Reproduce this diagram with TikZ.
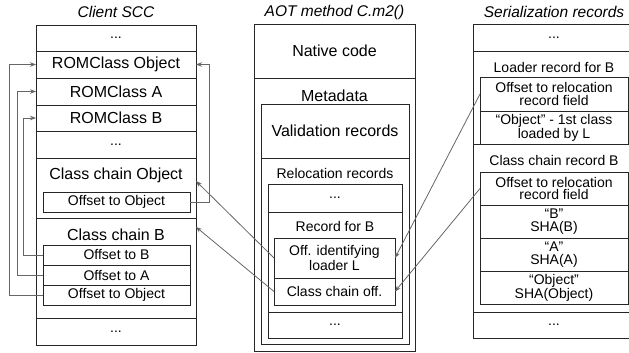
\documentclass[tikz,border=0pt]{standalone}
\usepackage{fontspec}
\setmainfont{Liberation Sans}
\usetikzlibrary{arrows.meta}
\begin{document}
\begin{tikzpicture}[x=1pt,y=-1pt,
  cell/.style={draw=black!85, line width=0.8pt, inner sep=0pt, outer sep=0pt, align=center},
  big/.style={font=\fontsize{16}{15}\selectfont},
  sm/.style={font=\fontsize{14}{12.8}\selectfont},
  lbl/.style={inner sep=0pt, align=center},
  ttl/.style={font=\fontsize{15.5}{16}\selectfont\itshape},
  conn/.style={draw=black!60, line width=0.8pt},
  arr/.style={conn, -{Stealth[length=6pt,width=4.5pt]}}
]
\useasboundingbox (0,0) rectangle (629,353);
\clip (0,0) rectangle (629,353);

% titles
\node[ttl] (tL) at (116,12) {Client SCC};
\node[ttl] (tM) at (334.5,12) {AOT method C.m2()};
\node[ttl] (tR) at (554,12) {Serialization records};

% ---------- Client SCC ----------
\node[cell,sm,minimum width=160pt,minimum height=26pt] (l0) at (116,38) {...};
\node[cell,big,minimum width=160pt,minimum height=27pt] (lRO) at (116,64.5) {ROMClass Object};
\node[cell,big,minimum width=160pt,minimum height=27pt] (lRA) at (116,91.5) {ROMClass A};
\node[cell,big,minimum width=160pt,minimum height=26pt] (lRB) at (116,118) {ROMClass B};
\node[cell,sm,minimum width=160pt,minimum height=27pt] (l1) at (116,144.5) {...};
\node[cell,minimum width=160pt,minimum height=60pt] (lCCO) at (116,188) {};
\node[lbl,big] (lCCOt) at (116,175) {Class chain Object};
\node[cell,sm,minimum width=147pt,minimum height=20pt] (lOO) at (116.5,202) {Offset to Object};
\node[cell,minimum width=160pt,minimum height=100pt] (lCCB) at (116,268) {};
\node[lbl,big] (lCCBt) at (116,235) {Class chain B};
\node[cell,sm,minimum width=147pt,minimum height=20pt] (lOB) at (116.5,255) {Offset to B};
\node[cell,sm,minimum width=147pt,minimum height=20pt] (lOA) at (116.5,275) {Offset to A};
\node[cell,sm,minimum width=147pt,minimum height=20pt] (lOO2) at (116.5,295) {Offset to Object};
\node[cell,sm,minimum width=160pt,minimum height=27pt] (l2) at (116,331.5) {...};

% ---------- AOT method ----------
\node[cell,minimum width=161pt,minimum height=327pt] (mCol) at (334.5,187.5) {};
\node[cell,big,minimum width=161pt,minimum height=54pt] (mNC) at (334.5,51) {Native code};
\node[lbl,big] (mMDt) at (334.5,96) {Metadata};
\node[cell,minimum width=148pt,minimum height=240pt] (mIn) at (335,224) {};
\node[cell,big,minimum width=148pt,minimum height=54pt] (mVR) at (335,131) {Validation records};
\node[lbl,sm] (mRRt) at (335,173) {Relocation records};
\node[cell,minimum width=134pt,minimum height=154pt] (mRR) at (335,261) {};
\node[cell,sm,minimum width=134pt,minimum height=28pt] (mD1) at (335,198) {...};
\node[cell,minimum width=134pt,minimum height=100pt] (mRB) at (335,262) {};
\node[lbl,sm] (mRBt) at (335,226) {Record for B};
\node[cell,sm,minimum width=121pt,minimum height=40pt] (mOff) at (334.5,258) {Off. identifying\\loader L};
\node[cell,sm,minimum width=121pt,minimum height=27pt] (mCC) at (334.5,291.5) {Class chain off.};
\node[cell,sm,minimum width=134pt,minimum height=26pt] (mD2) at (335,325) {...};

% ---------- Serialization records ----------
\node[cell,sm,minimum width=162pt,minimum height=27pt] (r0) at (554,37.5) {...};
\node[cell,minimum width=162pt,minimum height=93pt] (rLR) at (554,97.5) {};
\node[lbl,sm] (rLRt) at (554,67) {Loader record for B};
\node[cell,sm,minimum width=148pt,minimum height=34pt] (rL1) at (554,94) {Offset to relocation\\record field};
\node[cell,sm,minimum width=148pt,minimum height=33pt] (rL2) at (554,127.5) {“Object” - 1st class\\loaded by L};
\node[cell,minimum width=162pt,minimum height=168pt] (rCR) at (554,228) {};
\node[lbl,sm] (rCRt) at (554,160) {Class chain record B};
\node[cell,sm,minimum width=148pt,minimum height=33pt] (rC1) at (554,188.5) {Offset to relocation\\record field};
\node[cell,sm,minimum width=148pt,minimum height=33pt] (rC2) at (554,221.5) {“B”\\SHA(B)};
\node[cell,sm,minimum width=148pt,minimum height=33pt] (rC3) at (554,254.5) {“A”\\SHA(A)};
\node[cell,sm,minimum width=148pt,minimum height=33pt] (rC4) at (554,287.5) {“Object”\\SHA(Object)};
\node[cell,sm,minimum width=162pt,minimum height=26pt] (r2) at (554,325) {...};

% ---------- connectors ----------
\draw[arr] (lOB.west) -- ++(-20,0) |- (lRB.west);
\draw[arr] (lOA.west) -- ++(-26,0) |- (lRA.west);
\draw[arr] (lOO2.west) -- ++(-34,0) |- (lRO.west);
\draw[arr] (lOO.east) -- ++(19,0) |- (lRO.east);
\draw[arr] (mOff.west) -- ([yshift=7pt]lCCO.east);
\draw[arr] (mCC.west) -- ([yshift=41pt]lCCB.east);
\draw[arr] (rL1.west) -- (mOff.east);
\draw[arr] (rC1.west) -- (mCC.east);
\end{tikzpicture}
\end{document}
